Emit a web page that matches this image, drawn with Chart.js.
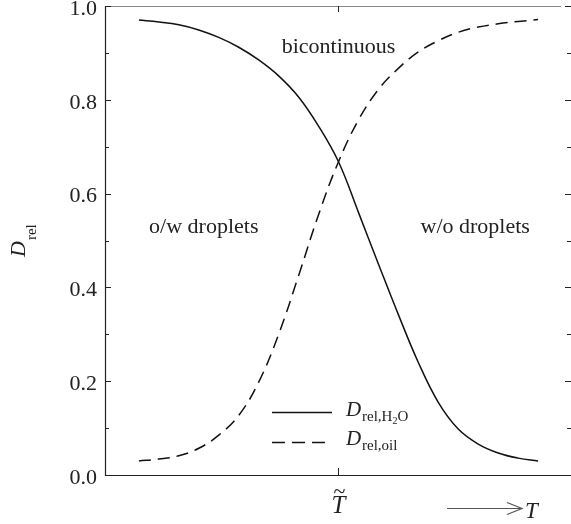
<!DOCTYPE html>
<html>
<head>
<meta charset="utf-8">
<script src="https://cdn.jsdelivr.net/npm/chart.js@4.4.1/dist/chart.umd.min.js"></script>
<style>
  html, body { margin: 0; padding: 0; background: #fff; overflow: hidden; }
  #wrap { width: 571px; height: 524px; position: relative; }
</style>
</head>
<body>
<div id="wrap"><canvas id="mycanvas"></canvas></div>
<script>
// temperature axis, T~ at 0 (arbitrary units)
var temps = [-1.0, -0.9, -0.8, -0.7, -0.6, -0.5, -0.4, -0.3, -0.2, -0.1, 0.0,
             0.1, 0.2, 0.3, 0.4, 0.5, 0.6, 0.7, 0.8, 0.9, 1.0];
var dWater = [0.970, 0.966, 0.960, 0.949, 0.933, 0.912, 0.885, 0.851, 0.806, 0.744, 0.668,
              0.560, 0.450, 0.342, 0.240, 0.155, 0.098, 0.066, 0.047, 0.036, 0.030];
var dOil = [0.030, 0.034, 0.041, 0.057, 0.085, 0.127, 0.198, 0.300, 0.425, 0.555, 0.668,
            0.757, 0.822, 0.867, 0.902, 0.926, 0.944, 0.955, 0.962, 0.967, 0.971];
var yTicks = [0.0, 0.2, 0.4, 0.6, 0.8, 1.0];
var yMinor = [0.1, 0.3, 0.5, 0.7, 0.9];
var regions = [
  { text: 'bicontinuous', x: 0.0, y: 0.90 },
  { text: 'o/w droplets', x: -0.675, y: 0.515 },
  { text: 'w/o droplets', x: 0.685, y: 0.515 }
];

var serif = '"Liberation Serif", "DejaVu Serif", serif';

function pts(ys) {
  var out = [];
  for (var i = 0; i < temps.length; i++) out.push({ x: temps[i], y: ys[i] });
  return out;
}

// draws frame, inner ticks, labels and legend
var decor = {
  id: 'decor',
  afterDraw: function(chart) {
    var ctx = chart.ctx;
    var xs = chart.scales.x, ys = chart.scales.y;
    var a = chart.chartArea;
    var x0 = xs.getPixelForValue(0);
    ctx.save();

    // top border (grey)
    ctx.strokeStyle = '#888';
    ctx.lineWidth = 1.2;
    ctx.beginPath();
    ctx.moveTo(a.left, a.top + 0.5);
    ctx.lineTo(xs.getPixelForValue(1.115), a.top + 0.5);
    ctx.stroke();

    // left + bottom axis
    ctx.strokeStyle = '#222';
    ctx.lineWidth = 1.2;
    ctx.beginPath();
    ctx.moveTo(a.left + 0.5, a.top);
    ctx.lineTo(a.left + 0.5, a.bottom + 0.5);
    ctx.lineTo(a.right, a.bottom + 0.5);
    ctx.stroke();

    // y ticks, inside on both sides
    ctx.lineWidth = 1;
    ctx.beginPath();
    yTicks.forEach(function(v) {
      var py = Math.round(ys.getPixelForValue(v)) + 0.5;
      ctx.moveTo(a.left, py); ctx.lineTo(a.left + 6, py);
      ctx.moveTo(a.right, py); ctx.lineTo(a.right - 6, py);
    });
    yMinor.forEach(function(v) {
      var py = Math.round(ys.getPixelForValue(v)) + 0.5;
      ctx.moveTo(a.left, py); ctx.lineTo(a.left + 4, py);
      ctx.moveTo(a.right, py); ctx.lineTo(a.right - 4, py);
    });
    // T~ tick top and bottom
    var tx = Math.round(x0) + 0.5;
    ctx.moveTo(tx, a.top); ctx.lineTo(tx, a.top + 6);
    ctx.moveTo(tx, a.bottom); ctx.lineTo(tx, a.bottom - 7);
    ctx.stroke();

    // y tick labels
    ctx.fillStyle = '#222';
    ctx.font = '22px ' + serif;
    ctx.textAlign = 'right';
    ctx.textBaseline = 'middle';
    yTicks.forEach(function(v) {
      ctx.fillText(v.toFixed(1), a.left - 8, ys.getPixelForValue(v) + 3);
    });

    // region labels
    ctx.font = '22px ' + serif;
    ctx.textAlign = 'center';
    ctx.textBaseline = 'alphabetic';
    regions.forEach(function(r) {
      ctx.fillText(r.text, xs.getPixelForValue(r.x), ys.getPixelForValue(r.y));
    });

    // y title: D_rel rotated
    ctx.save();
    ctx.translate(25, 257);
    ctx.rotate(-Math.PI / 2);
    ctx.textAlign = 'left';
    ctx.font = 'italic 22px ' + serif;
    ctx.fillText('D', 0, 0);
    var dw = ctx.measureText('D').width;
    ctx.font = '15px ' + serif;
    ctx.fillText('rel', dw + 1, 11);
    ctx.restore();

    // legend
    ctx.strokeStyle = '#111';
    ctx.lineWidth = 1.5;
    ctx.beginPath();
    ctx.moveTo(272, 412.5); ctx.lineTo(332, 412.5);
    ctx.stroke();
    ctx.setLineDash([13, 7]);
    ctx.beginPath();
    ctx.moveTo(272, 442.5); ctx.lineTo(332, 442.5);
    ctx.stroke();
    ctx.setLineDash([]);

    ctx.textAlign = 'left';
    ctx.font = 'italic 21px ' + serif;
    ctx.fillText('D', 346, 416);
    ctx.fillText('D', 346, 445);
    ctx.font = '15px ' + serif;
    ctx.fillText('rel,H', 362, 421);
    var hw = ctx.measureText('rel,H').width;
    ctx.font = '10px ' + serif;
    ctx.fillText('2', 362 + hw, 424);
    var tw = ctx.measureText('2').width;
    ctx.font = '15px ' + serif;
    ctx.fillText('O', 362 + hw + tw, 421);
    ctx.fillText('rel,oil', 362, 450);

    // x labels: T~ and arrow T
    ctx.textAlign = 'center';
    ctx.font = 'italic 25px ' + serif;
    ctx.fillText('T', x0, 513);
    ctx.font = '22px ' + serif;
    ctx.fillText('~', x0 + 1, 498);

    ctx.strokeStyle = '#555';
    ctx.lineWidth = 1.2;
    ctx.beginPath();
    ctx.moveTo(447, 508.5); ctx.lineTo(522, 508.5);
    ctx.moveTo(507, 502.5); ctx.lineTo(522, 508.5); ctx.lineTo(507, 514.5);
    ctx.stroke();
    ctx.textAlign = 'left';
    ctx.font = 'italic 23px ' + serif;
    ctx.fillText('T', 525, 518);

    ctx.restore();
  }
};

var chartdata = {
  datasets: [
    {
      label: 'D rel,H2O',
      data: pts(dWater),
      borderColor: '#111',
      borderWidth: 1.5,
      pointRadius: 0,
      fill: false,
      tension: 0.4
    },
    {
      label: 'D rel,oil',
      data: pts(dOil),
      borderColor: '#111',
      borderWidth: 1.5,
      borderDash: [12, 7],
      pointRadius: 0,
      fill: false,
      tension: 0.4
    }
  ]
};

var ctx = document.getElementById('mycanvas');
var lineGraph = new Chart(ctx, {
  type: 'line',
  data: chartdata,
  options: {
    responsive: true,
    maintainAspectRatio: false,
    animation: false,
    layout: { padding: { left: 105, right: 0, top: 6, bottom: 49 } },
    plugins: { legend: { display: false }, tooltip: { enabled: false } },
    scales: {
      x: { type: 'linear', display: false, min: -1.17, max: 1.165 },
      y: { display: false, min: 0, max: 1.0 }
    }
  },
  plugins: [decor]
});
</script>
</body>
</html>
